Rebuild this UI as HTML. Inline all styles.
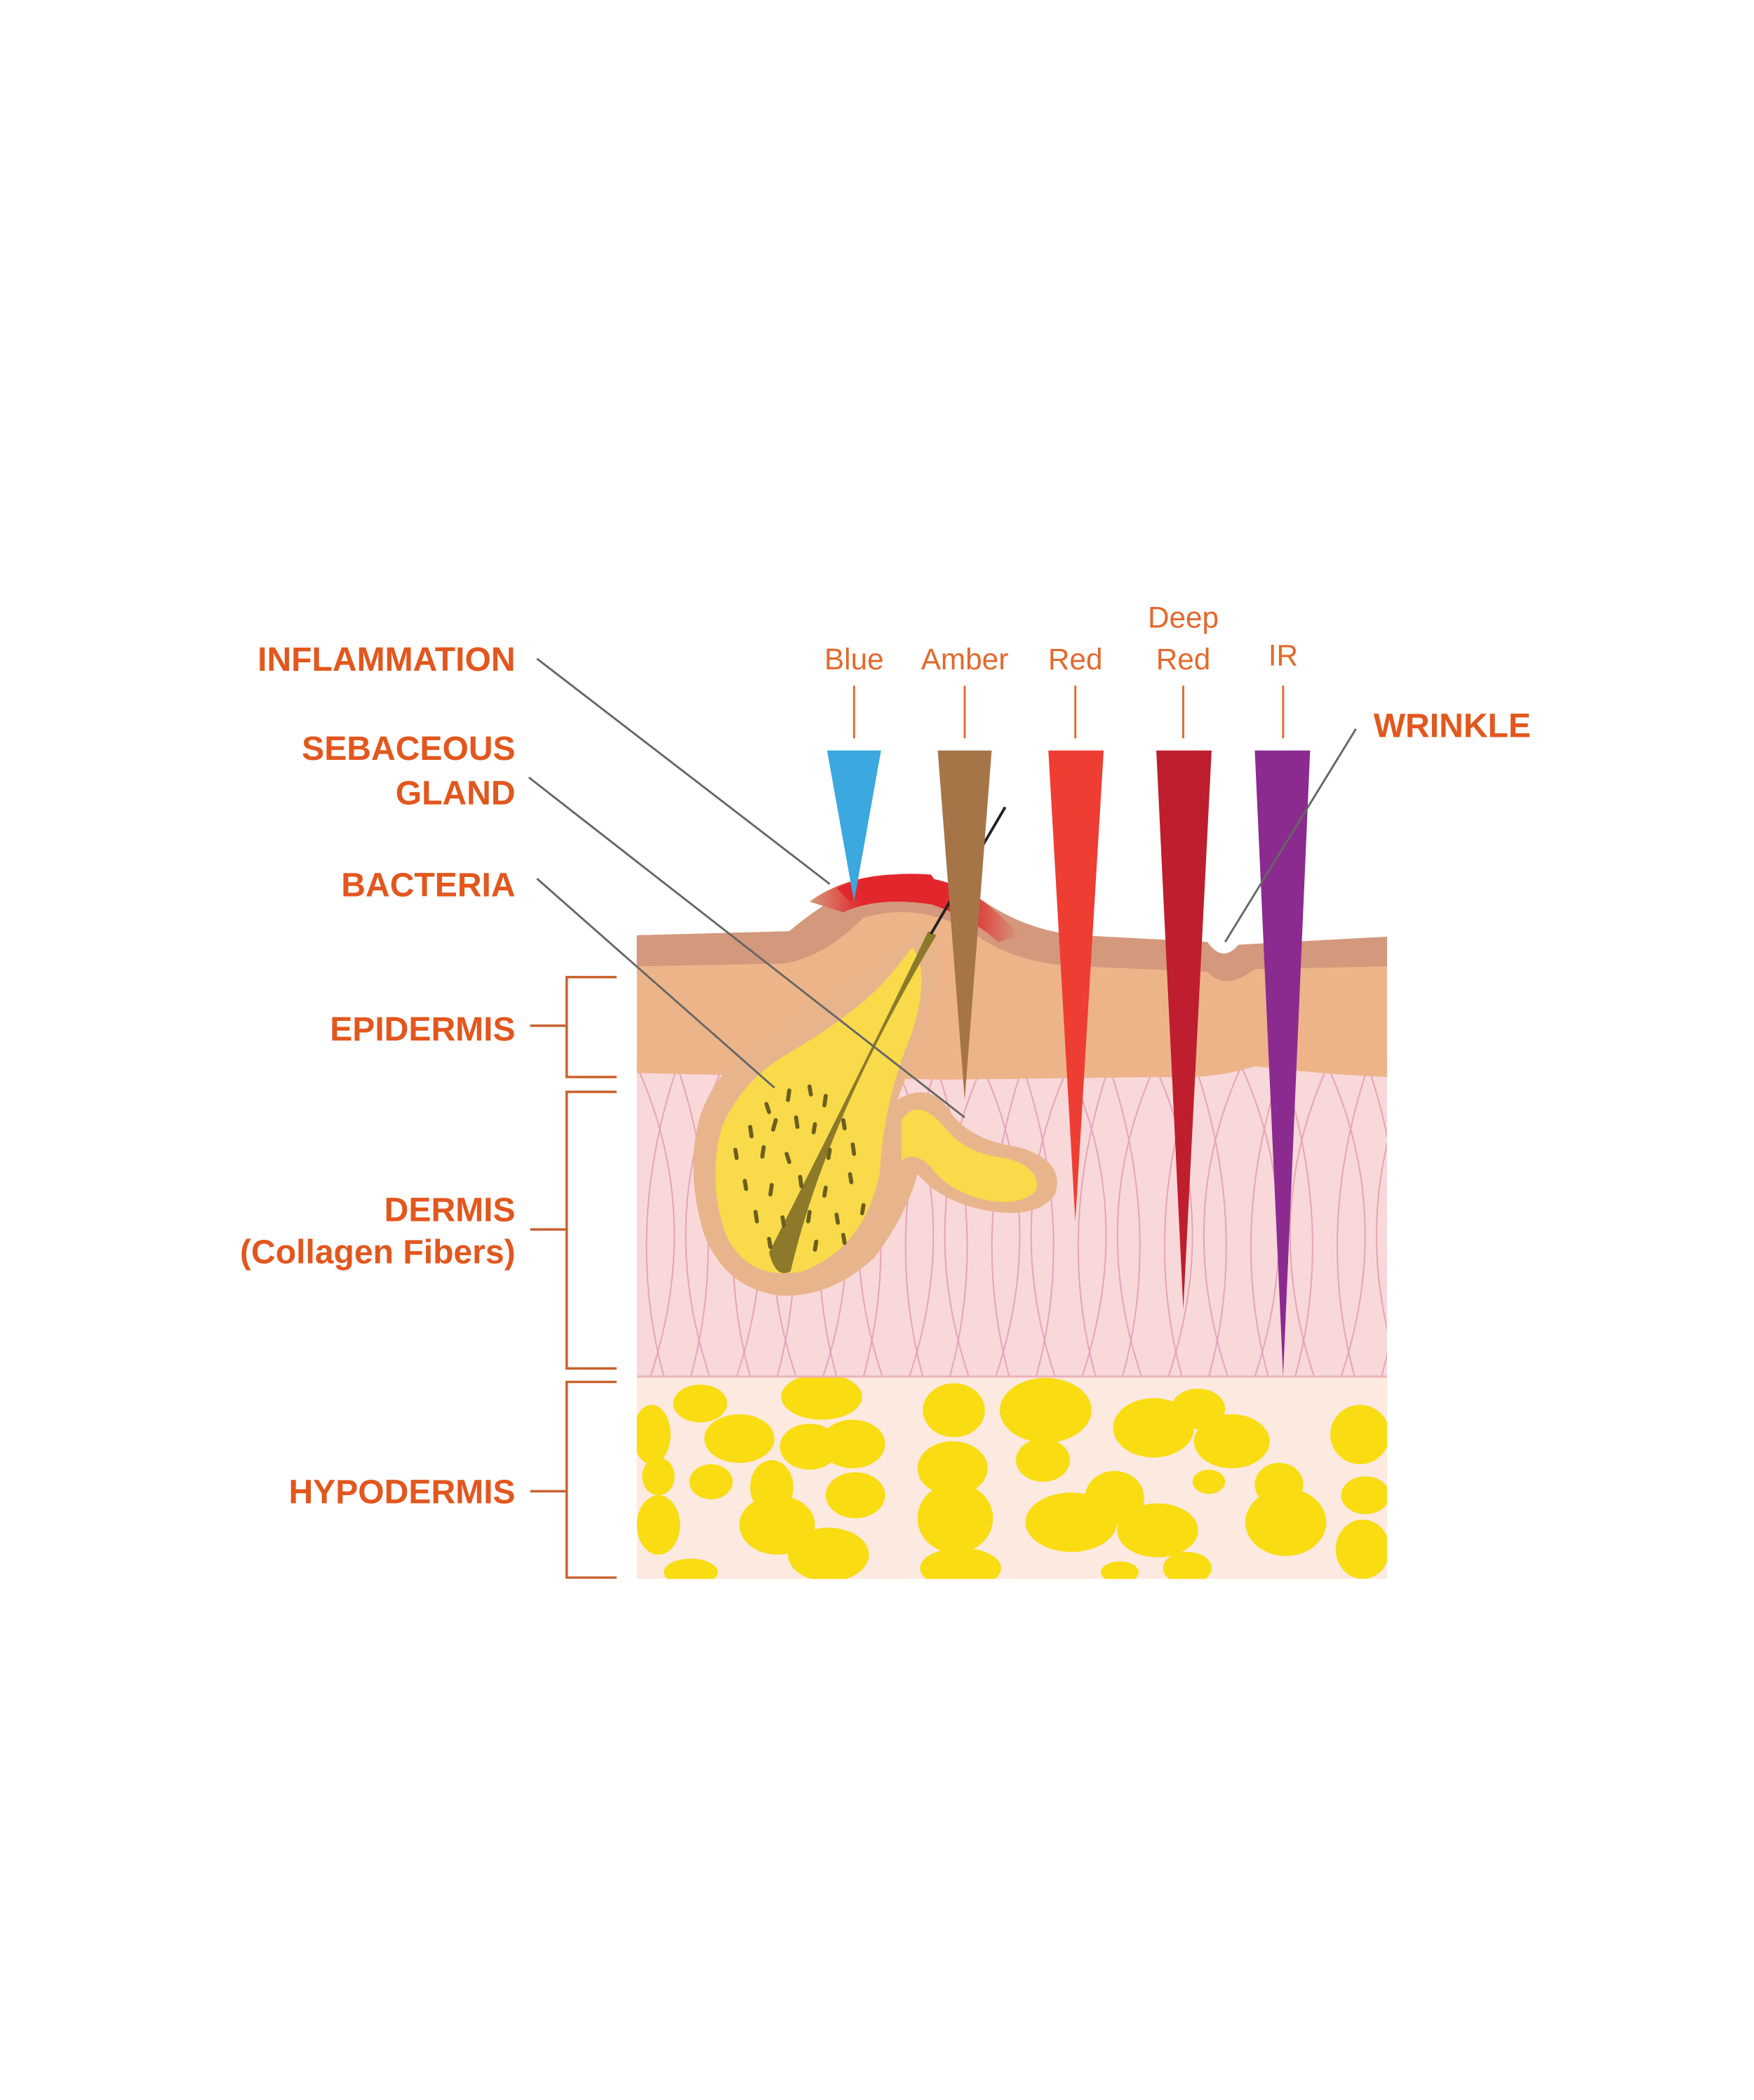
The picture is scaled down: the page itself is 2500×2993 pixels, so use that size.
<!DOCTYPE html>
<html><head><meta charset="utf-8"><style>
html,body{margin:0;padding:0;background:#fff}
svg{display:block}
.lb{font-family:"Liberation Sans",sans-serif;font-weight:bold;fill:#E2571E;font-size:25px}
.lt{font-family:"Liberation Sans",sans-serif;fill:#E2692E;font-size:22px;text-anchor:middle}
</style></head><body>
<svg width="2500" height="2993" viewBox="0 0 1300 1556" xmlns="http://www.w3.org/2000/svg">
<defs>
<clipPath id="hc"><rect x="472" y="1020" width="556" height="150"/></clipPath>
<pattern id="col" x="472" y="790" width="64" height="230" patternUnits="userSpaceOnUse">
<g fill="none" stroke="#E3A3B3" stroke-width="1">
<path d="M0,0 Q50,110 10,230"/><path d="M64,0 Q14,110 54,230"/>
<path d="M30,0 Q70,120 40,230"/><path d="M30,0 Q-10,120 20,230"/>
</g></pattern>
<linearGradient id="inf" x1="0" x2="1"><stop offset="0" stop-color="#D4987C"/><stop offset="0.25" stop-color="#E2272C"/><stop offset="0.75" stop-color="#E2272C"/><stop offset="1" stop-color="#D4987C"/></linearGradient>
</defs>

<rect x="472" y="1020" width="556" height="150" fill="#FCE9DF"/>
<g clip-path="url(#hc)" fill="#F9DC12">
<ellipse cx="609" cy="1035" rx="30" ry="17"/><ellipse cx="519" cy="1040" rx="20" ry="14"/>
<ellipse cx="548" cy="1066" rx="26" ry="18"/><ellipse cx="483" cy="1063" rx="14" ry="22"/>
<ellipse cx="600" cy="1072" rx="22" ry="17"/><ellipse cx="632" cy="1070" rx="24" ry="18"/>
<ellipse cx="707" cy="1045" rx="23" ry="20"/><ellipse cx="775" cy="1045" rx="34" ry="24"/>
<ellipse cx="855" cy="1058" rx="30" ry="22"/><ellipse cx="888" cy="1044" rx="20" ry="15"/>
<ellipse cx="913" cy="1068" rx="28" ry="20"/><ellipse cx="1008" cy="1063" rx="22" ry="22"/>
<ellipse cx="527" cy="1098" rx="16" ry="13"/><ellipse cx="572" cy="1102" rx="16" ry="20"/>
<ellipse cx="576" cy="1130" rx="28" ry="22"/><ellipse cx="634" cy="1108" rx="22" ry="17"/>
<ellipse cx="706" cy="1088" rx="26" ry="20"/><ellipse cx="708" cy="1125" rx="28" ry="26"/>
<ellipse cx="773" cy="1082" rx="20" ry="16"/><ellipse cx="826" cy="1110" rx="22" ry="20"/>
<ellipse cx="794" cy="1128" rx="34" ry="22"/><ellipse cx="858" cy="1134" rx="30" ry="20"/>
<ellipse cx="896" cy="1098" rx="12" ry="9"/><ellipse cx="948" cy="1100" rx="18" ry="16"/>
<ellipse cx="953" cy="1128" rx="30" ry="25"/><ellipse cx="1012" cy="1108" rx="18" ry="14"/>
<ellipse cx="1010" cy="1148" rx="20" ry="22"/><ellipse cx="488" cy="1130" rx="16" ry="22"/>
<ellipse cx="512" cy="1165" rx="20" ry="10"/><ellipse cx="614" cy="1152" rx="30" ry="20"/>
<ellipse cx="712" cy="1162" rx="30" ry="15"/><ellipse cx="830" cy="1165" rx="14" ry="8"/>
<ellipse cx="880" cy="1162" rx="18" ry="12"/><ellipse cx="488" cy="1094" rx="12" ry="14"/>
</g>
<rect x="472" y="780" width="556" height="240" fill="#F9D8DA"/>
<rect x="472" y="790" width="556" height="230" fill="url(#col)"/>
<line x1="472" y1="1020" x2="1028" y2="1020" stroke="#EAB0B8" stroke-width="1.5"/>
<path d="M472,693 L585,690 Q620,660 660,648 Q700,650 725,665 Q760,690 800,693 L895,698 Q906,714 918,700 L1028,694 L1028,798 Q980,796 930,790 Q900,800 860,798 L700,800 Q600,798 472,795 Z" fill="#EDB48A"/>
<path d="M472,693 L585,690 Q620,660 660,648 Q700,650 725,665 Q760,690 800,693 L895,698 Q906,714 918,700 L1028,694 L1028,716 L930,718 Q908,735 895,720 L800,716 Q750,714 720,690 Q680,668 640,680 Q610,710 580,714 L472,716 Z" fill="#D4987C"/>
<path d="M600,668 Q625,650 660,648 Q700,648 725,665 Q745,680 755,693 L740,698 Q720,680 690,670 Q650,664 625,676 Z" fill="url(#inf)"/>
<path d="M620,658 Q650,645 690,648 L700,662 Q660,658 630,668 Z" fill="#E2272C"/>
<!-- sebaceous gland -->
<path d="M682,690 Q702,700 690,745 Q675,790 665,815 Q690,800 705,825 Q720,845 755,850 Q790,860 782,885 Q770,902 738,898 Q700,893 680,870 Q672,900 648,932 Q615,962 578,960 Q538,955 522,915 Q508,870 518,830 Q530,790 570,768 Q630,730 660,705 Z" fill="#E8B48C"/>
<path d="M676,702 Q690,720 676,765 Q655,815 652,870 Q640,925 595,942 Q555,950 538,915 Q524,875 535,835 Q550,800 585,780 Q645,745 668,712 Z" fill="#F8DA4A"/>
<path d="M668,830 Q680,812 700,835 Q715,855 745,858 Q772,865 768,882 Q758,893 735,890 Q705,885 690,865 Q678,852 668,860 Z" fill="#F8DA4A"/>
<!-- hair -->
<path d="M688,690 Q640,790 570,928 Q575,948 586,942 Q612,830 694,693 Z" fill="#8C7A2A"/>
<line x1="690" y1="692" x2="745" y2="598" stroke="#222" stroke-width="2"/>
<g stroke="#6B5E1E" stroke-width="3" stroke-linecap="round">
<path d="M568,818 l2,6"/><path d="M585,808 l-1,7"/><path d="M600,805 l1,6"/><path d="M612,812 l-1,7"/>
<path d="M556,835 l1,7"/><path d="M575,830 l-2,7"/><path d="M590,828 l1,7"/><path d="M604,833 l-1,6"/><path d="M625,830 l1,6"/>
<path d="M545,852 l1,6"/><path d="M566,850 l-1,7"/><path d="M583,855 l2,6"/><path d="M615,852 l-1,6"/><path d="M632,848 l1,7"/>
<path d="M552,875 l1,6"/><path d="M572,878 l-1,7"/><path d="M593,872 l1,7"/><path d="M612,880 l-1,6"/><path d="M630,870 l1,6"/>
<path d="M560,898 l1,7"/><path d="M580,902 l1,6"/><path d="M600,898 l-1,7"/><path d="M620,900 l1,6"/><path d="M640,893 l-1,6"/>
<path d="M570,918 l1,6"/><path d="M605,920 l-1,6"/><path d="M625,915 l1,6"/>
</g>
<polygon points="613,556 653,556 633,668" fill="#3BA8E0"/>
<polygon points="695,556 735,556 715,815" fill="#A57548"/>
<polygon points="777,556 818,556 797,905" fill="#EE3D33"/>
<polygon points="857,556 898,556 877,970" fill="#BE1E2D"/>
<polygon points="930,556 971,556 951,1020" fill="#8B2B8F"/>
<g stroke="#E2692E" stroke-width="1.5">
<line x1="633" y1="508" x2="633" y2="547"/><line x1="715" y1="508" x2="715" y2="547"/>
<line x1="797" y1="508" x2="797" y2="547"/><line x1="877" y1="508" x2="877" y2="547"/>
<line x1="951" y1="508" x2="951" y2="547"/>
</g>
<text class="lt" x="633" y="496">Blue</text><text class="lt" x="715" y="496">Amber</text>
<text class="lt" x="797" y="496">Red</text><text class="lt" x="877" y="465">Deep</text>
<text class="lt" x="877" y="496">Red</text><text class="lt" x="951" y="493">IR</text>
<g stroke="#666" stroke-width="1.5" fill="none">
<line x1="398" y1="488" x2="615" y2="655"/>
<line x1="392" y1="576" x2="715" y2="828"/>
<line x1="398" y1="651" x2="574" y2="806"/>
<line x1="1005" y1="540" x2="908" y2="698"/>
</g>
<g stroke="#C8622E" stroke-width="1.8" fill="none">
<path d="M457,724 H420 V798 H457"/><line x1="393" y1="760" x2="420" y2="760"/>
<path d="M457,809 H420 V1014 H457"/><line x1="393" y1="911" x2="420" y2="911"/>
<path d="M457,1024 H420 V1169 H457"/><line x1="393" y1="1105" x2="420" y2="1105"/>
</g>
<g class="lb" text-anchor="end">
<text x="382" y="497">INFLAMMATION</text>
<text x="382" y="563">SEBACEOUS</text>
<text x="382" y="596">GLAND</text>
<text x="382" y="664">BACTERIA</text>
<text x="382" y="771">EPIDERMIS</text>
<text x="382" y="905">DERMIS</text>
<text x="382" y="936">(Collagen Fibers)</text>
<text x="382" y="1114">HYPODERMIS</text>
</g>
<text class="lb" x="1018" y="546">WRINKLE</text>
</svg>
</body></html>
